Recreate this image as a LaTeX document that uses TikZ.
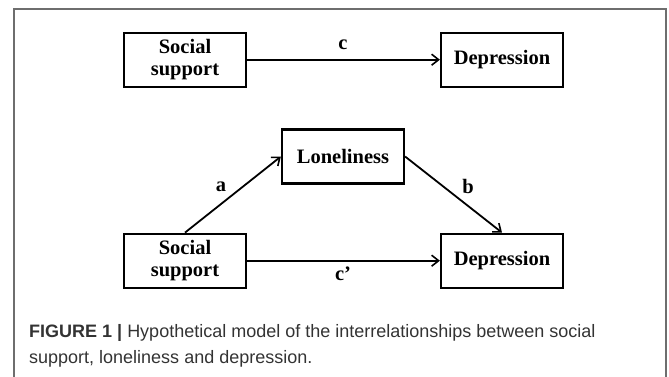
\documentclass[tikz,border=0pt]{standalone}
\usepackage{fontspec}
\setmainfont{Liberation Serif}
\newfontfamily\capfont{Liberation Sans}
\usetikzlibrary{positioning,arrows.meta}
\definecolor{frameG}{HTML}{6E6E6E}

\begin{document}
\begin{tikzpicture}[
    x=1pt,y=-1pt,
    >={Straight Barb[length=7pt,width=11pt,line width=1.6pt]},
    var/.style={draw,line width=2.2pt,minimum width=122pt,minimum height=54pt,
                inner sep=2pt,align=center,font=\fontsize{20.5}{21.5}\selectfont\bfseries},
    path/.style={->,line width=1.8pt},
    lbl/.style={font=\fontsize{20.5}{21.5}\selectfont\bfseries,inner sep=0pt},
]
\useasboundingbox (0,0) rectangle (669,377);

% frame (open at the bottom)
\draw[frameG,line width=1.5pt] (14,377) -- (14,9) -- (666,9) -- (666,377);

% =====================================================================
%  total effect
% =====================================================================
\node[var] (ssA)  at (185,59.7) {Social\\support};
\node[var] (depA) at (502,59.7) {Depression};
\draw[path] (ssA) -- (depA);
\node[lbl] (lc) at (343,45) {c};

% =====================================================================
%  mediation through loneliness
% =====================================================================
\node[var] (lon)  at (343,156.5) {Loneliness};
\node[var] (ssB)  at (185,260.7) {Social\\support};
\node[var] (depB) at (502,260.7) {Depression};

\draw[path] (ssB.north) -- (lon.west);
\draw[path] (lon.east) -- (depB.north);
\draw[path] (ssB) -- (depB);
\node[lbl] (la)  at (221,187) {a};
\node[lbl] (lb)  at (468,186) {b};
\node[lbl] (lcp) at (343,274) {c’};

% =====================================================================
%  caption (base anchor sits on the last line)
% =====================================================================
\node[anchor=base west,inner sep=0pt,align=left,
      font=\capfont\fontsize{18}{26}\selectfont,text=black!80] (cap) at (29,363.5)
     {{\bfseries FIGURE 1 |} Hypothetical model of the interrelationships between social\\
      support, loneliness and depression.};
\end{tikzpicture}
\end{document}
